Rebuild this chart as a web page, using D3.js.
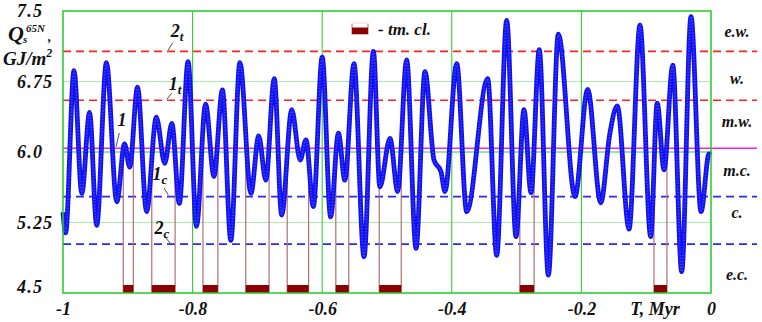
<!DOCTYPE html>
<html>
<head>
<meta charset="utf-8">
<script src="https://cdn.jsdelivr.net/npm/d3@7"></script>
<style>
  body { margin: 0; background: #fff; }
  svg text { font-family: "Liberation Serif", "DejaVu Serif", serif; font-style: italic; font-weight: bold; }
</style>
</head>
<body>
<svg id="chart" width="762" height="322"></svg>
<script>
// insolation Q_s^65N, GJ/m^2
var timeT = [-1.000, -0.996, -0.983, -0.971, -0.959, -0.948, -0.933, -0.917, -0.905, -0.897,
             -0.885, -0.871, -0.856, -0.843, -0.832, -0.8205, -0.807, -0.794, -0.780, -0.767,
             -0.754, -0.741, -0.727, -0.710, -0.698, -0.687, -0.674, -0.6625, -0.647, -0.634,
             -0.625, -0.6137, -0.600, -0.587, -0.575, -0.565, -0.551, -0.5355, -0.521, -0.511,
             -0.4954, -0.4835, -0.4697, -0.4552, -0.4414, -0.4275, -0.4167, -0.4105, -0.3924, -0.377,
             -0.3446, -0.3307, -0.3153, -0.3009, -0.2886, -0.2778, -0.265, -0.251, -0.2356, -0.2099,
             -0.1903, -0.1702, -0.156, -0.1446, -0.1265, -0.1096, -0.0931, -0.083, -0.0725, -0.059,
             -0.0452, -0.0309, -0.0154, -0.003, 0.000];
var insol = [5.36, 5.14, 6.865, 5.56, 6.42, 5.22, 6.95, 5.47, 6.085, 5.84,
             6.69, 5.365, 6.37, 5.88, 6.305, 5.454, 6.96, 5.21, 6.51, 5.74,
             6.66, 5.06, 6.95, 5.56, 6.17, 5.70, 6.78, 5.33, 6.45, 5.915,
             6.13, 5.42, 7.01, 5.31, 6.20, 5.70, 6.94, 4.886, 7.07, 5.63,
             6.145, 5.58, 6.98, 4.975, 6.855, 5.915, 5.79, 5.58, 6.94, 5.365,
             6.78, 4.90, 7.40, 5.10, 6.45, 5.567, 7.09, 4.69, 7.255, 5.525,
             6.667, 5.46, 6.20, 6.49, 5.18, 7.35, 5.10, 6.52, 5.81, 6.925,
             4.727, 7.44, 5.365, 5.98, 5.97];

// tm. cl. intervals
var clStart = [-0.907, -0.863, -0.784, -0.718, -0.654, -0.579, -0.512, -0.295, -0.088];
var clEnd   = [-0.8915, -0.827, -0.761, -0.682, -0.621, -0.559, -0.478, -0.273, -0.068];

// threshold levels
var levelNames  = ["2t", "1t", "1", "1c", "2c"];
var levelValues = [7.07, 6.55, 6.04, 5.525, 5.02];

var xTicks = [-1, -0.8, -0.6, -0.4, -0.2, 0];
var xTickLabels = ["-1", "-0.8", "-0.6", "-0.4", "-0.2", "0"];
var yTicks = [4.5, 5.25, 6.0, 6.75, 7.5];
var yTickLabels = ["4.5", "5.25", "6.0", "6.75", "7.5"];
var yGrid = [5.25, 6.0, 6.75];
var xGrid = [-0.8, -0.6, -0.4, -0.2];

var zoneNames = ["e.w.", "w.", "m.w.", "m.c.", "c.", "e.c."];
var zoneY = [7.28, 6.78, 6.33, 5.8, 5.36, 4.7];

var svg = d3.select("#chart");
var x = d3.scaleLinear().domain([-1, 0]).range([63, 711]);
var y = d3.scaleLinear().domain([4.5, 7.5]).range([293, 11]);

var data = timeT.map(function(t, i) { return {t: t, q: insol[i]}; });

// grid
svg.append("g").selectAll("line").data(yGrid).enter().append("line")
    .attr("x1", x(-1)).attr("x2", x(0))
    .attr("y1", function(d) { return y(d); }).attr("y2", function(d) { return y(d); })
    .attr("stroke", function(d) { return d === 6.0 ? "#33cc33" : "#aaeaaa"; })
    .attr("stroke-width", 1);
svg.append("g").selectAll("line").data(xGrid).enter().append("line")
    .attr("x1", function(d) { return x(d); }).attr("x2", function(d) { return x(d); })
    .attr("y1", y(7.5)).attr("y2", y(4.5))
    .attr("stroke", "#22cc22").attr("stroke-width", 1);

// threshold lines
var levelColor = function(i) { return i < 2 ? "#ff2020" : (i === 2 ? "#ee22ee" : "#2a2aee"); };
svg.append("g").selectAll("line").data(levelValues).enter().append("line")
    .attr("x1", x(-1)).attr("x2", 757)
    .attr("y1", function(d) { return y(d); }).attr("y2", function(d) { return y(d); })
    .attr("stroke", function(d, i) { return levelColor(i); })
    .attr("stroke-width", 1.6)
    .attr("stroke-dasharray", function(d, i) { return i === 2 ? null : "8,5"; });

// curve path (built first so tm.cl. lines can find it)
var line = d3.line()
    .x(function(d) { return x(d.t); })
    .y(function(d) { return y(d.q); })
    .curve(d3.curveMonotoneX);

var curveLayer = svg.append("g");
var clLayer = svg.insert("g", function() { return curveLayer.node(); });

var path = curveLayer.append("path")
    .datum(data)
    .attr("d", line)
    .attr("fill", "none")
    .attr("stroke", "#1010f0")
    .attr("stroke-width", 4.8)
    .attr("stroke-linejoin", "round");
curveLayer.append("path")
    .datum(data)
    .attr("d", line)
    .attr("fill", "none")
    .attr("stroke", "#3a40ff")
    .attr("stroke-width", 1.8)
    .attr("stroke-dasharray", "1.5,1.5");

// y of the drawn curve at a given x pixel
var pnode = path.node(), plen = pnode.getTotalLength();
function curveYAt(px) {
    var lo = 0, hi = plen;
    for (var k = 0; k < 40; k++) {
        var mid = (lo + hi) / 2;
        if (pnode.getPointAtLength(mid).x < px) lo = mid; else hi = mid;
    }
    return pnode.getPointAtLength(lo).y;
}

// tm. cl. intervals: thin sides + dark bar at bottom
var cl = clStart.map(function(s, i) { return {s: s, e: clEnd[i]}; });
cl.forEach(function(d) {
    [d.s, d.e].forEach(function(t) {
        clLayer.append("line")
            .attr("x1", x(t)).attr("x2", x(t))
            .attr("y1", curveYAt(x(t))).attr("y2", y(4.5))
            .attr("stroke", "#b07070").attr("stroke-width", 1.2);
    });
    clLayer.append("rect")
        .attr("x", x(d.s)).attr("width", x(d.e) - x(d.s))
        .attr("y", y(4.5) - 8).attr("height", 8)
        .attr("fill", "#8b0000");
});

// frame
svg.append("rect")
    .attr("x", x(-1)).attr("y", y(7.5))
    .attr("width", x(0) - x(-1)).attr("height", y(4.5) - y(7.5))
    .attr("fill", "none").attr("stroke", "#22cc22").attr("stroke-width", 1.5);

// axes
var xAxis = svg.append("g")
    .attr("transform", "translate(0," + y(4.5) + ")")
    .call(d3.axisBottom(x).tickValues(xTicks).tickSize(0).tickPadding(0)
        .tickFormat(function(d, i) { return xTickLabels[i]; }));
xAxis.select(".domain").remove();
xAxis.selectAll("text")
    .attr("y", 22).attr("dy", 0)
    .attr("font-size", 18).attr("font-family", null)
    .attr("fill", "#111");

var yAxis = svg.append("g")
    .attr("transform", "translate(" + x(-1) + ",0)")
    .call(d3.axisLeft(y).tickValues(yTicks).tickSize(0)
        .tickFormat(function(d, i) { return yTickLabels[i]; }));
yAxis.select(".domain").remove();
yAxis.selectAll("text")
    .attr("x", -46).attr("text-anchor", "start")
    .attr("dy", function(d) { return d === 4.5 ? "-0.05em" : "0.32em"; })
    .attr("font-size", 18).attr("font-family", null)
    .attr("letter-spacing", 1.2)
    .attr("fill", "#111");

svg.append("text").attr("x", 655).attr("y", 315).attr("text-anchor", "middle")
    .attr("font-size", 18).attr("fill", "#111").text("T, Myr");

// y title
var qt = svg.append("text").attr("x", 8).attr("y", 41).attr("font-size", 22).attr("fill", "#111");
qt.append("tspan").text("Q");
qt.append("tspan").attr("font-size", 11).attr("dy", -9).attr("dx", 2).text("65N");
svg.append("text").attr("x", 23).attr("y", 43).attr("font-size", 11).attr("fill", "#111").text("s");
svg.append("text").attr("x", 48).attr("y", 41).attr("font-size", 14).attr("fill", "#111").text(",");
var gj = svg.append("text").attr("x", 3).attr("y", 65).attr("font-size", 19).attr("fill", "#111");
gj.append("tspan").text("GJ/m");
gj.append("tspan").attr("font-size", 12).attr("dy", -8).text("2");

// zone labels on the right
svg.append("g").selectAll("text").data(zoneNames).enter().append("text")
    .attr("x", 737).attr("y", function(d, i) { return y(zoneY[i]); })
    .attr("dy", "0.35em").attr("text-anchor", "middle")
    .attr("font-size", 16).attr("fill", "#111")
    .text(function(d) { return d; });

// level labels with leader lines
var lblPos = [[177, 37, 172.7, 42.7, 168.3, 50], [175, 90, 171.7, 93.3, 166.7, 99.3],
              [122, 126, 119.3, 133, 116, 146.7], [160, 180, 164, 188, 168.3, 195],
              [162, 234, 166, 238, 170, 243]];
levelNames.forEach(function(n, i) {
    var p = lblPos[i];
    var t = svg.append("text").attr("x", p[0]).attr("y", p[1]).attr("text-anchor", "middle")
        .attr("font-size", 18).attr("fill", "#111");
    t.append("tspan").text(n.charAt(0));
    if (n.length > 1) t.append("tspan").attr("font-size", 13).attr("dy", 4).text(n.charAt(1));
    svg.append("line").attr("x1", p[2]).attr("y1", p[3]).attr("x2", p[4]).attr("y2", p[5])
        .attr("stroke", "#222").attr("stroke-width", 0.8);
});

// legend
var lg = svg.append("g");
lg.append("rect").attr("x", 352).attr("y", 23).attr("width", 16).attr("height", 11)
    .attr("fill", "none").attr("stroke", "#b07070").attr("stroke-width", 1);
lg.append("rect").attr("x", 352).attr("y", 27.5).attr("width", 16).attr("height", 6.5)
    .attr("fill", "#8b0000");
lg.append("line").attr("x1", 351).attr("x2", 369).attr("y1", 23).attr("y2", 23)
    .attr("stroke", "#fff").attr("stroke-width", 1.5);
lg.append("text").attr("x", 378).attr("y", 35).attr("font-size", 17).attr("fill", "#111")
    .text("- tm. cl.");
</script>
</body>
</html>
